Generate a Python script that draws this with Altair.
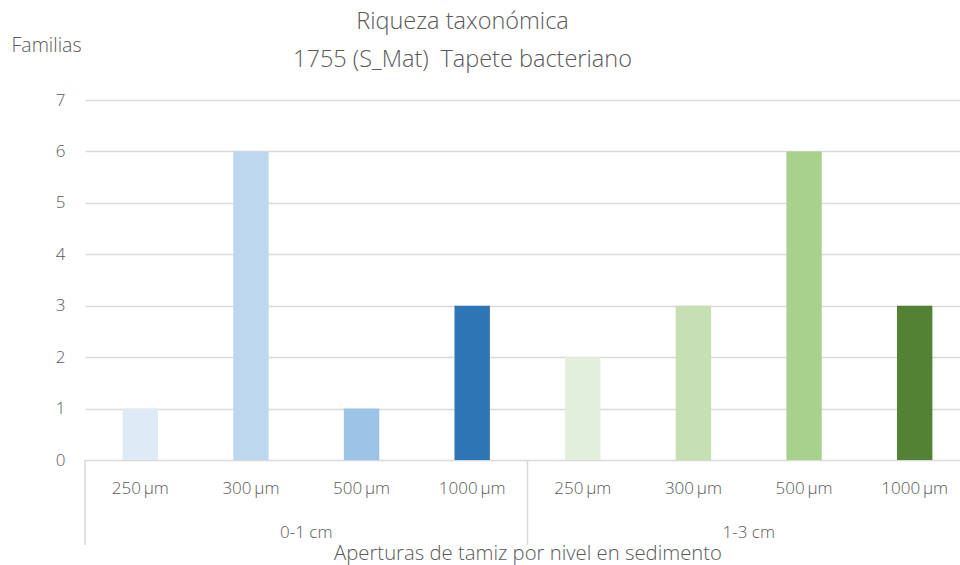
import altair as alt
import pandas as pd

# Sediment level and sieve aperture for each bar
niveles = ["0-1 cm", "0-1 cm", "0-1 cm", "0-1 cm", "1-3 cm", "1-3 cm", "1-3 cm", "1-3 cm"]
aperturas = ["250\u2009µm", "300\u2009µm", "500\u2009µm", "1000\u2009µm",
             "250\u2009µm", "300\u2009µm", "500\u2009µm", "1000\u2009µm"]
familias = [1, 6, 1, 3, 2, 3, 6, 3]
colores = ["#DEEBF7", "#BDD7EE", "#9DC3E6", "#2E75B6",
           "#E2EFDA", "#C6E0B4", "#A9D18E", "#548235"]

# Group labels and where each group starts / is centred
grupos = ["0-1 cm", "1-3 cm"]
inicio_grupo = [0, 4]
centro_grupo = [1, 5]

FONT = "Open Sans"
GRAY = "#595959"
LIGHT = 300

claves = [f"{n}|{a}" for n, a in zip(niveles, aperturas)]
df = pd.DataFrame({"clave": claves, "nivel": niveles, "apertura": aperturas, "familias": familias})
df_grupos = pd.DataFrame({
    "grupo": grupos,
    "inicio": [claves[i] for i in inicio_grupo],
    "centro": [claves[i] for i in centro_grupo],
})

W, H = 875, 360
x_scale = alt.Scale(domain=claves, range=[0, 885], paddingInner=0, paddingOuter=0)

bars = alt.Chart(df).mark_bar(width=alt.RelativeBandSize(0.32)).encode(
    x=alt.X("clave:N", scale=x_scale, sort=claves,
            axis=alt.Axis(title="Aperturas de tamiz por nivel en sedimento",
                          labelExpr="split(datum.label, '|')[1]",
                          labelAngle=0, ticks=False, domain=False,
                          labelPadding=20, labelFontSize=17, labelColor=GRAY,
                          labelFont=FONT, labelFontWeight=LIGHT,
                          titleFont=FONT, titleFontSize=20.3,
                          titleFontWeight=LIGHT, titleColor=GRAY, titlePadding=47)),
    y=alt.Y("familias:Q", scale=alt.Scale(domain=[0, 7]),
            axis=alt.Axis(title="Familias", values=list(range(8)), ticks=False, domain=False,
                          labelPadding=20, labelFontSize=17, labelColor=GRAY, labelFont=FONT,
                          labelFontWeight=LIGHT,
                          gridColor="#D9D9D9", gridWidth=1.5,
                          titleAngle=0, titleAlign="left", titleBaseline="middle",
                          titleX=-74, titleY=-55, titleFont=FONT, titleFontSize=19.5,
                          titleFontWeight=LIGHT, titleColor=GRAY)),
    color=alt.Color("clave:N", scale=alt.Scale(domain=claves, range=colores), legend=None),
)

group_text = alt.Chart(df_grupos).mark_text(
    font=FONT, fontSize=17, fontWeight=LIGHT, color=GRAY, baseline="middle"
).encode(
    x=alt.X("centro:N", scale=x_scale, sort=claves, bandPosition=1),
    y=alt.value(H + 73),
    text="grupo:N",
)

separators = alt.Chart(df_grupos).mark_rule(color="#D9D9D9", strokeWidth=1.5).encode(
    x=alt.X("inicio:N", scale=x_scale, sort=claves, bandPosition=0),
    y=alt.value(H),
    y2=alt.value(H + 85),
)

chart = alt.layer(bars, separators, group_text).properties(
    width=W, height=H,
    title=alt.TitleParams(
        ["Riqueza taxonómica", "1755 (S_Mat)\u2002Tapete bacteriano"],
        font=FONT, fontSize=23.5, fontWeight=LIGHT, color=GRAY,
        anchor="middle", lineHeight=38, dx=-60, dy=40,
    ),
    autosize=alt.AutoSizeParams(type="none"),
    padding={"left": 85, "top": 100, "right": 0, "bottom": 105},
).configure_view(stroke=None)

chart.save("out.html", embed_options={"renderer": "svg", "actions": False})
